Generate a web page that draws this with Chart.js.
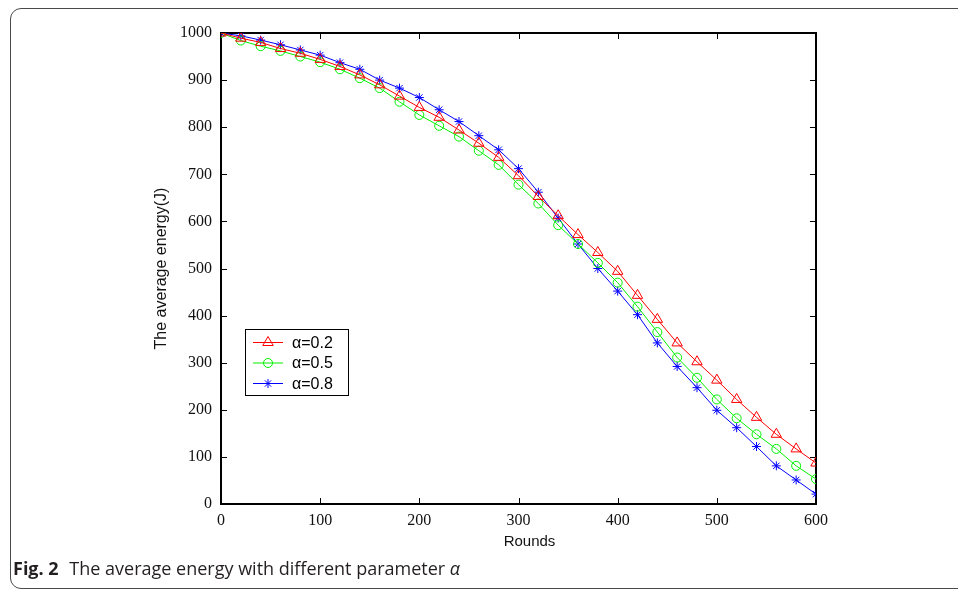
<!DOCTYPE html>
<html>
<head>
<meta charset="utf-8">
<script src="https://cdn.jsdelivr.net/npm/chart.js@4.4.1/dist/chart.umd.min.js"></script>
<style>
  html, body { margin: 0; padding: 0; background: #fff; }
  #wrap { position: relative; width: 958px; height: 590px; overflow: hidden; }
  #chart { position: absolute; left: 0; top: 0; }
  #frame {
    position: absolute; left: 10px; top: 8px; width: 970px; height: 579px;
    border: 1.5px solid #4a4a4a; border-radius: 11px; pointer-events: none;
  }
  #caption {
    position: absolute; left: 13px; top: 556px;
    font-family: "Open Sans", "Noto Sans", sans-serif; font-size: 18px; color: #231f20;
    white-space: nowrap;
  }
  #caption b { font-weight: 700; margin-right: 6px; }
</style>
</head>
<body>
<div id="wrap">
  <canvas id="chart" width="958" height="590"></canvas>
  <div id="frame"></div>
  <div id="caption"><b>Fig. 2</b> The average energy with different parameter <i>α</i></div>
</div>
<script>
// rounds sampled every 20
const rounds = [0, 20, 40, 60, 80, 100, 120, 140, 160, 180, 200, 220, 240, 260, 280, 300,
                320, 340, 360, 380, 400, 420, 440, 460, 480, 500, 520, 540, 560, 580, 600];

const energyA02 = [1000, 989, 980, 967, 957, 944, 929, 911, 890, 866, 842, 821, 794, 766, 736, 697,
                   653, 612, 572, 534, 494, 443, 392, 342, 302, 263, 222, 184, 148, 117, 87];
const energyA05 = [1000, 984, 972, 962, 950, 938, 923, 904, 883, 854, 826, 803, 780, 750, 720, 678,
                   638, 592, 552, 512, 470, 419, 365, 311, 268, 222, 182, 148, 117, 81, 53];
const energyA08 = [1000, 994, 985, 975, 964, 953, 937, 923, 900, 883, 863, 837, 812, 782, 752, 712,
                   662, 607, 552, 500, 452, 402, 342, 292, 247, 199, 162, 122, 81, 51, 21];

const seriesLabels = ['α=0.2', 'α=0.5', 'α=0.8'];
const xTicks = [0, 100, 200, 300, 400, 500, 600];
const yTicks = [0, 100, 200, 300, 400, 500, 600, 700, 800, 900, 1000];
const xTitle = 'Rounds';

function toPoints(vals) {
    return vals.map((v, i) => ({ x: rounds[i], y: v }));
}

// frame + inward ticks on all four sides, the legend inside the plot, x title
const boxPlugin = {
    id: 'boxTicks',
    beforeDatasetsDraw(chart) {
        const { ctx, chartArea: a, scales } = chart;
        ctx.save();
        ctx.strokeStyle = '#000';
        ctx.lineWidth = 1;
        const len = 6;
        ctx.beginPath();
        xTicks.forEach(t => {
            const px = Math.round(scales.x.getPixelForValue(t)) + 0.5;
            ctx.moveTo(px, a.bottom); ctx.lineTo(px, a.bottom - len);
            ctx.moveTo(px, a.top); ctx.lineTo(px, a.top + len);
        });
        yTicks.forEach(t => {
            const py = Math.round(scales.y.getPixelForValue(t)) + 0.5;
            ctx.moveTo(a.left, py); ctx.lineTo(a.left + len, py);
            ctx.moveTo(a.right, py); ctx.lineTo(a.right - len, py);
        });
        ctx.stroke();
        ctx.lineWidth = 2;
        ctx.strokeRect(a.left, a.top, a.right - a.left, a.bottom - a.top);

        // x axis title, sits a little right of centre in the original
        ctx.fillStyle = '#111';
        ctx.font = '15px "Liberation Sans", Arial, sans-serif';
        ctx.textAlign = 'center';
        ctx.textBaseline = 'middle';
        ctx.fillText(xTitle, (a.left + a.right) / 2 + 11, a.bottom + 38);
        ctx.restore();
    },
    afterDatasetsDraw(chart) {
        const { ctx, chartArea: a } = chart;
        const bx = a.left + 24, by = a.top + 296, bw = 103, bh = 66;
        ctx.save();
        ctx.fillStyle = '#fff';
        ctx.fillRect(bx, by, bw, bh);
        ctx.strokeStyle = '#000';
        ctx.lineWidth = 1;
        ctx.strokeRect(bx + 0.5, by + 0.5, bw, bh);
        chart.data.datasets.forEach((ds, i) => {
            const y = by + 13.5 + i * 20.5;
            ctx.strokeStyle = ds.borderColor;
            ctx.lineWidth = 1;
            ctx.beginPath();
            ctx.moveTo(bx + 8, y); ctx.lineTo(bx + 38, y);
            ctx.stroke();
            ctx.fillStyle = 'rgba(0,0,0,0)';
            Chart.helpers.drawPoint(ctx, {
                pointStyle: ds.pointStyle, radius: ds.pointRadius, borderWidth: 1, rotation: 0
            }, bx + 23, y);
            ctx.fillStyle = '#000';
            ctx.font = '16px "Liberation Sans", Arial, sans-serif';
            ctx.textBaseline = 'middle';
            ctx.fillText(seriesLabels[i], bx + 47, y + 1);
        });
        ctx.restore();
    }
};

const ctx = document.getElementById('chart').getContext('2d');
new Chart(ctx, {
    type: 'line',
    data: {
        datasets: [
            { label: seriesLabels[0], data: toPoints(energyA02), borderColor: '#ff0000',
              pointStyle: 'triangle', pointRadius: 6 },
            { label: seriesLabels[1], data: toPoints(energyA05), borderColor: '#00f000',
              pointStyle: 'circle', pointRadius: 4.5 },
            { label: seriesLabels[2], data: toPoints(energyA08), borderColor: '#0000ff',
              pointStyle: 'star', pointRadius: 4.5 }
        ].map(d => Object.assign(d, {
            borderWidth: 1, pointBorderColor: d.borderColor, pointBackgroundColor: 'rgba(0,0,0,0)',
            pointBorderWidth: 1, tension: 0, fill: false
        }))
    },
    options: {
        responsive: false,
        animation: false,
        devicePixelRatio: 1,
        layout: { padding: { left: 152, right: 142, top: 33, bottom: 0 } },
        plugins: { legend: { display: false }, tooltip: { enabled: false } },
        scales: {
            x: {
                type: 'linear', min: 0, max: 600,
                afterBuildTicks: s => { s.ticks = xTicks.map(v => ({ value: v })); },
                afterFit: s => { s.height = 86; },
                grid: { display: false, drawTicks: false },
                border: { display: false },
                ticks: { padding: 7, color: '#111', maxRotation: 0, callback: v => String(v),
                         font: { family: '"Liberation Serif", "Times New Roman", serif', size: 16 } },
                title: { display: false }
            },
            y: {
                min: 0, max: 1000,
                afterBuildTicks: s => { s.ticks = yTicks.map(v => ({ value: v })); },
                afterFit: s => { s.width = 69; },
                grid: { display: false, drawTicks: false },
                border: { display: false },
                ticks: { padding: 9, color: '#111', callback: v => String(v),
                         font: { family: '"Liberation Serif", "Times New Roman", serif', size: 16 } },
                title: { display: true, text: 'The average energy(J)', color: '#111', padding: 0,
                         font: { family: '"Liberation Sans", Arial, sans-serif', size: 16 } }
            }
        }
    },
    plugins: [boxPlugin]
});
</script>
</body>
</html>
